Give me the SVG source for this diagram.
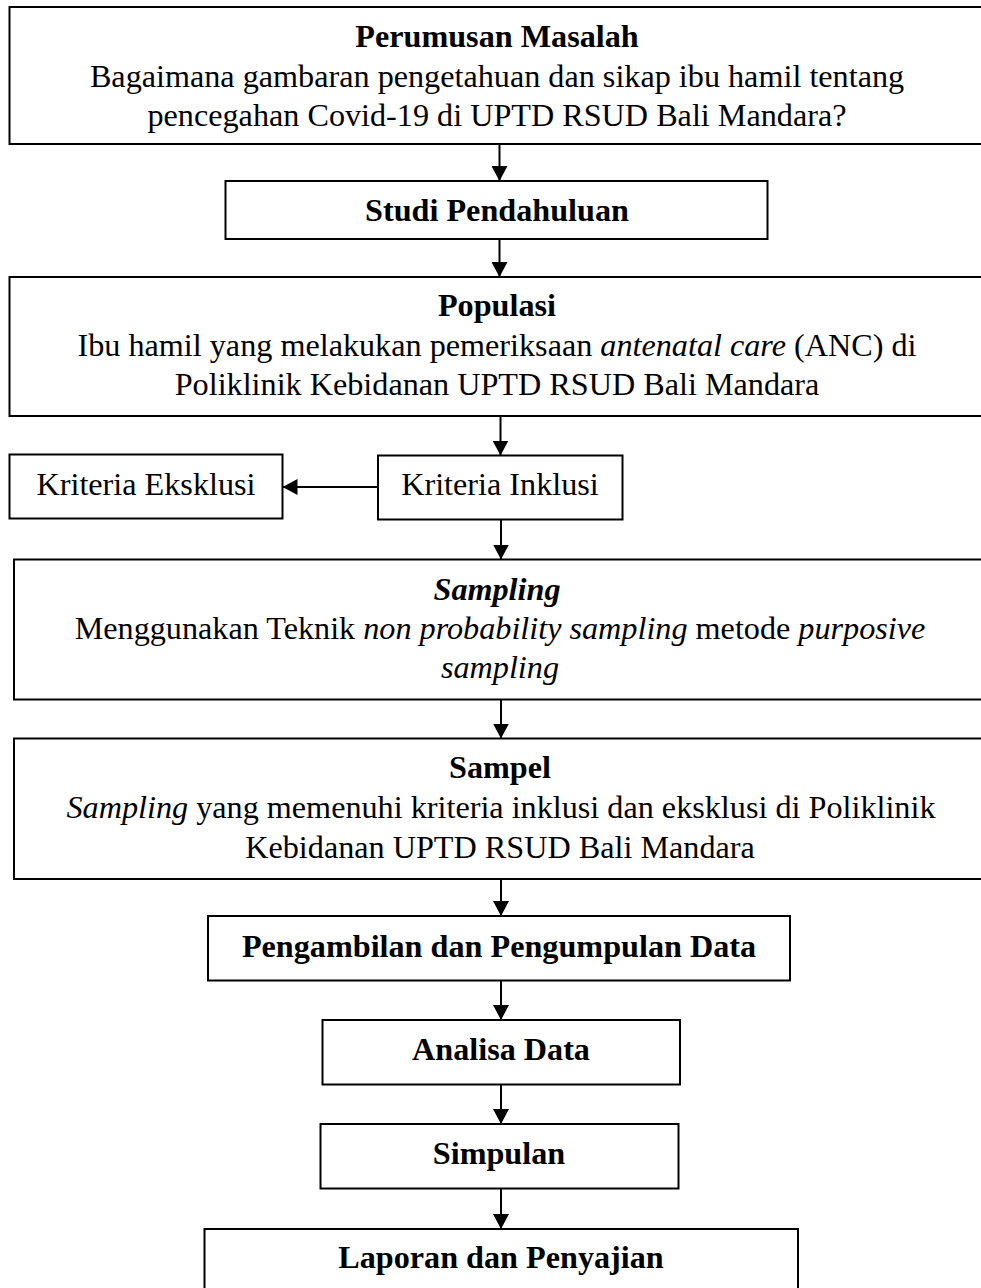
<svg xmlns="http://www.w3.org/2000/svg" width="981" height="1288" viewBox="0 0 981 1288">
<style>
.box{fill:#fff;stroke:#000;stroke-width:2}
text{font-family:"Liberation Serif","Times New Roman",serif;font-size:32.2px;fill:#000;text-anchor:middle}
.b{font-weight:bold}
.i{font-style:italic}
.conn{stroke:#000;stroke-width:2;fill:none}
</style>
<defs>
<marker id="ah" markerWidth="14" markerHeight="16" refX="15" refY="8" orient="auto" markerUnits="userSpaceOnUse">
<path d="M0,0 L15,8 L0,16 Z" fill="#000"/>
</marker>
</defs>
<g id="n1">
<rect class="box" x="9.5" y="7" width="990" height="137"/>
<text x="497" y="47" class="b">Perumusan Masalah</text>
<text x="497" y="87">Bagaimana gambaran pengetahuan dan sikap ibu hamil tentang</text>
<text x="497" y="126">pencegahan Covid-19 di UPTD RSUD Bali Mandara?</text>
</g>
<g id="n2">
<rect class="box" x="225.5" y="181" width="542" height="58"/>
<text x="497" y="221" class="b">Studi Pendahuluan</text>
</g>
<g id="n3">
<rect class="box" x="9.5" y="277" width="990" height="139"/>
<text x="497" y="316" class="b">Populasi</text>
<text x="497" y="356">Ibu hamil yang melakukan pemeriksaan <tspan class="i">antenatal care</tspan> (ANC) di</text>
<text x="497" y="395">Poliklinik Kebidanan UPTD RSUD Bali Mandara</text>
</g>
<g id="n4">
<rect class="box" x="9.5" y="454.5" width="273" height="64"/>
<text x="146" y="495">Kriteria Eksklusi</text>
</g>
<g id="n5">
<rect class="box" x="378" y="455.5" width="244.5" height="64"/>
<text x="500" y="495">Kriteria Inklusi</text>
</g>
<g id="n6">
<rect class="box" x="14" y="559.5" width="990" height="140"/>
<text x="497" y="600" class="b i">Sampling</text>
<text x="500" y="639">Menggunakan Teknik <tspan class="i">non probability sampling</tspan> metode <tspan class="i">purposive</tspan></text>
<text x="500" y="678" class="i">sampling</text>
</g>
<g id="n7">
<rect class="box" x="14" y="738.5" width="990" height="140.5"/>
<text x="500" y="778" class="b">Sampel</text>
<text x="501" y="818"><tspan class="i">Sampling</tspan> yang memenuhi kriteria inklusi dan eksklusi di Poliklinik</text>
<text x="500" y="858">Kebidanan UPTD RSUD Bali Mandara</text>
</g>
<g id="n8">
<rect class="box" x="208" y="916" width="582" height="64.5"/>
<text x="499" y="957" class="b">Pengambilan dan Pengumpulan Data</text>
</g>
<g id="n9">
<rect class="box" x="322.5" y="1020" width="357.5" height="64.5"/>
<text x="501" y="1060" class="b">Analisa Data</text>
</g>
<g id="n10">
<rect class="box" x="320.5" y="1124" width="358" height="64.5"/>
<text x="499" y="1164" class="b">Simpulan</text>
</g>
<g id="n11">
<rect class="box" x="204.5" y="1229" width="593.5" height="80"/>
<text x="501" y="1268" class="b">Laporan dan Penyajian</text>
</g>
<g id="connectors">
<line class="conn" x1="499.5" y1="144" x2="499.5" y2="181" marker-end="url(#ah)"/>
<line class="conn" x1="499.5" y1="239" x2="499.5" y2="277" marker-end="url(#ah)"/>
<line class="conn" x1="500.5" y1="416" x2="500.5" y2="455.5" marker-end="url(#ah)"/>
<line class="conn" x1="378" y1="487" x2="282.5" y2="487" marker-end="url(#ah)"/>
<line class="conn" x1="501" y1="519.5" x2="501" y2="559.5" marker-end="url(#ah)"/>
<line class="conn" x1="501" y1="699.5" x2="501" y2="738.5" marker-end="url(#ah)"/>
<line class="conn" x1="501" y1="879" x2="501" y2="916" marker-end="url(#ah)"/>
<line class="conn" x1="501" y1="980.5" x2="501" y2="1020" marker-end="url(#ah)"/>
<line class="conn" x1="501" y1="1084.5" x2="501" y2="1124" marker-end="url(#ah)"/>
<line class="conn" x1="501" y1="1188.5" x2="501" y2="1229" marker-end="url(#ah)"/>
</g>
</svg>
